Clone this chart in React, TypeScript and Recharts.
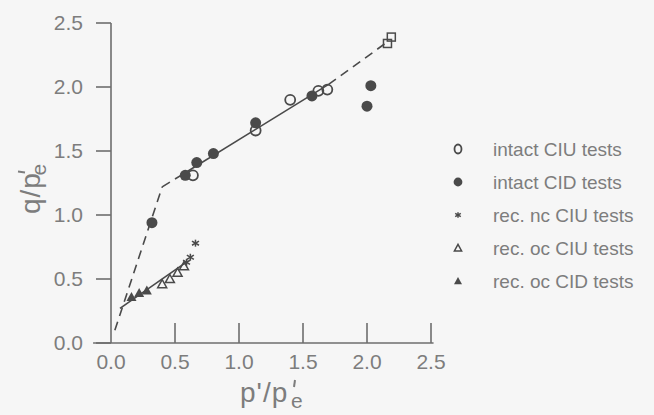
import React from "react";
import { ReferenceLine, Scatter, ScatterChart, XAxis, YAxis } from "recharts";

// p'/p'e , q/p'e pairs
const intactCIU = [
  { x: 0.64, y: 1.31 },
  { x: 1.13, y: 1.66 },
  { x: 1.4, y: 1.9 },
  { x: 1.62, y: 1.97 },
  { x: 1.69, y: 1.98 },
];
const intactCIUHigh = [
  { x: 2.16, y: 2.34 },
  { x: 2.19, y: 2.39 },
];
const intactCID = [
  { x: 0.32, y: 0.94 },
  { x: 0.58, y: 1.31 },
  { x: 0.67, y: 1.41 },
  { x: 0.8, y: 1.48 },
  { x: 1.13, y: 1.72 },
  { x: 1.57, y: 1.93 },
  { x: 2.03, y: 2.01 },
  { x: 2.0, y: 1.85 },
];
const recNcCIU = [
  { x: 0.66, y: 0.78 },
  { x: 0.62, y: 0.67 },
  { x: 0.59, y: 0.63 },
];
const recOcCIU = [
  { x: 0.4, y: 0.46 },
  { x: 0.46, y: 0.5 },
  { x: 0.52, y: 0.55 },
  { x: 0.57, y: 0.6 },
];
const recOcCID = [
  { x: 0.16, y: 0.36 },
  { x: 0.22, y: 0.39 },
  { x: 0.28, y: 0.41 },
];

// fitted lines
const steepDashed = [
  { x: 0.03, y: 0.1 },
  { x: 0.4, y: 1.22 },
];
const upperDashedA = [
  { x: 0.4, y: 1.22 },
  { x: 0.58, y: 1.33 },
];
const upperSolid = [
  { x: 0.58, y: 1.33 },
  { x: 1.7, y: 2.02 },
];
const upperDashedB = [
  { x: 1.7, y: 2.02 },
  { x: 2.17, y: 2.36 },
];
const lowerSolid = [
  { x: 0.07, y: 0.27 },
  { x: 0.6, y: 0.64 },
];

const ticks = [0, 0.5, 1.0, 1.5, 2.0, 2.5];

const INK = "#4a4a4a";
const AXIS = "#6e6e6e";
const TEXT = "#7d7d7d";
const FONT = "'Liberation Sans', Arial, sans-serif";

type MarkerKind = "openCircle" | "dot" | "star" | "openTri" | "tri" | "square";

function Marker({ kind, cx, cy, small }: { kind: MarkerKind; cx: number; cy: number; small?: boolean }) {
  const s = small ? 0.8 : 1;
  switch (kind) {
    case "openCircle":
      return small ? (
        <ellipse cx={cx} cy={cy} rx={3.5} ry={4.5} fill="none" stroke={INK} strokeWidth={1.8} />
      ) : (
        <circle cx={cx} cy={cy} r={5} fill="none" stroke={INK} strokeWidth={1.8} />
      );
    case "dot":
      return <circle cx={cx} cy={cy} r={5.5 * s} fill={INK} />;
    case "star": {
      const r = 3.5 * s;
      return (
        <g stroke={INK} strokeWidth={1.5}>
          <line x1={cx} y1={cy - r} x2={cx} y2={cy + r} />
          <line x1={cx - r} y1={cy - r * 0.6} x2={cx + r} y2={cy + r * 0.6} />
          <line x1={cx - r} y1={cy + r * 0.6} x2={cx + r} y2={cy - r * 0.6} />
        </g>
      );
    }
    case "openTri": {
      const h = 4.5 * s;
      return (
        <polygon
          points={`${cx},${cy - h} ${cx + h},${cy + h * 0.8} ${cx - h},${cy + h * 0.8}`}
          fill="none"
          stroke={INK}
          strokeWidth={1.5}
        />
      );
    }
    case "tri": {
      const h = 5 * s;
      return (
        <polygon
          points={`${cx},${cy - h} ${cx + h},${cy + h * 0.8} ${cx - h},${cy + h * 0.8}`}
          fill={INK}
        />
      );
    }
    case "square":
      return <rect x={cx - 4} y={cy - 4} width={8} height={8} fill="none" stroke={INK} strokeWidth={1.5} />;
  }
  return null;
}

const shapeOf = (kind: MarkerKind) => (p: any) => <Marker kind={kind} cx={p.cx} cy={p.cy} />;
const noShape = () => <g />;

const legendItems: { name: string; kind: MarkerKind }[] = [
  { name: "intact CIU tests", kind: "openCircle" },
  { name: "intact CID tests", kind: "dot" },
  { name: "rec. nc CIU tests", kind: "star" },
  { name: "rec. oc CIU tests", kind: "openTri" },
  { name: "rec. oc CID tests", kind: "tri" },
];

function XTick(props: any) {
  const { x, y, payload } = props;
  return (
    <g>
      {payload.value > 0 && <line x1={x} x2={x} y1={y} y2={y - 20} stroke={AXIS} strokeWidth={1.6} />}
      <text x={x} y={y + 26} textAnchor="middle" fontSize={21} fill={TEXT} fontFamily={FONT}>
        {Number(payload.value).toFixed(1)}
      </text>
    </g>
  );
}

// axis title like p'/p'e: base letters, subscript e, prime drawn as a small stroke above it
function AxisTitle({ base }: { base: string }) {
  const ex = base.length * 12.5 + 1;
  return (
    <>
      <text x={0} y={0} fontSize={28} fill={TEXT} fontFamily={FONT} letterSpacing={1}>
        {base}
      </text>
      <text x={ex} y={6} fontSize={21} fill={TEXT} fontFamily={FONT}>
        e
      </text>
      <line x1={ex + 4} y1={-22} x2={ex + 3} y2={-15} stroke={TEXT} strokeWidth={2} />
    </>
  );
}

const lineStyle = { stroke: INK, strokeWidth: 1.6 };
const dashStyle = { stroke: INK, strokeWidth: 1.6, strokeDasharray: "9 6" };

export default function App() {
  return (
    <div style={{ position: "absolute", left: 0, top: 0, width: 654, height: 415, background: "#f6f6f6" }}>
      <ScatterChart width={654} height={415} margin={{ top: 23, right: 223, bottom: 32, left: 41 }}>
        <XAxis
          type="number"
          dataKey="x"
          domain={[0, 2.5]}
          ticks={ticks}
          interval={0}
          axisLine={false}
          tickLine={false}
          tickSize={0}
          tickMargin={0}
          height={40}
          tick={<XTick />}
        />
        <YAxis
          type="number"
          dataKey="y"
          domain={[0, 2.5]}
          ticks={ticks}
          interval={0}
          width={70}
          tickSize={15}
          tickMargin={13}
          axisLine={{ stroke: AXIS, strokeWidth: 1.6 }}
          tickLine={{ stroke: AXIS, strokeWidth: 1.6 }}
          tickFormatter={(v: number) => v.toFixed(1)}
          tick={{ fontSize: 21, fill: TEXT, fontFamily: FONT }}
        />
        <ReferenceLine
          segment={[
            { x: -0.14, y: 0 },
            { x: 2.52, y: 0 },
          ]}
          ifOverflow="visible"
          stroke={AXIS}
          strokeWidth={1.6}
        />

        <Scatter data={steepDashed} line={dashStyle} shape={noShape} legendType="none" isAnimationActive={false} />
        <Scatter data={upperDashedA} line={dashStyle} shape={noShape} legendType="none" isAnimationActive={false} />
        <Scatter data={upperSolid} line={lineStyle} shape={noShape} legendType="none" isAnimationActive={false} />
        <Scatter data={upperDashedB} line={dashStyle} shape={noShape} legendType="none" isAnimationActive={false} />
        <Scatter data={lowerSolid} line={lineStyle} shape={noShape} legendType="none" isAnimationActive={false} />

        <Scatter name="intact CIU tests" data={intactCIU} shape={shapeOf("openCircle")} isAnimationActive={false} />
        <Scatter data={intactCIUHigh} shape={shapeOf("square")} legendType="none" isAnimationActive={false} />
        <Scatter name="intact CID tests" data={intactCID} shape={shapeOf("dot")} isAnimationActive={false} />
        <Scatter name="rec. nc CIU tests" data={recNcCIU} shape={shapeOf("star")} isAnimationActive={false} />
        <Scatter name="rec. oc CIU tests" data={recOcCIU} shape={shapeOf("openTri")} isAnimationActive={false} />
        <Scatter name="rec. oc CID tests" data={recOcCID} shape={shapeOf("tri")} isAnimationActive={false} />
      </ScatterChart>

      <svg width={654} height={415} style={{ position: "absolute", left: 0, top: 0, pointerEvents: "none" }}>
        {legendItems.map((item, i) => (
          <g key={item.name}>
            <Marker kind={item.kind} cx={458} cy={149 + i * 33} small />
            <text x={493} y={156 + i * 33} fontSize={19} fill={TEXT} fontFamily={FONT}>
              {item.name}
            </text>
          </g>
        ))}
        <g transform="translate(240 402)">
          <AxisTitle base="p'/p" />
        </g>
        <g transform="translate(40 214) rotate(-90)">
          <AxisTitle base="q/p" />
        </g>
      </svg>
    </div>
  );
}
